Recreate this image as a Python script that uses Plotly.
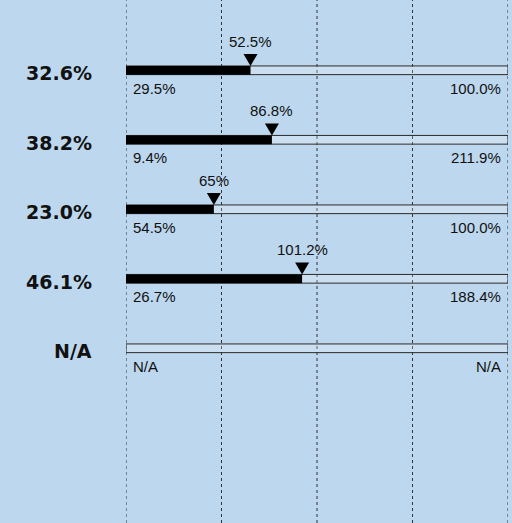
import plotly.graph_objects as go

# ---- data ----
row_labels = ["32.6%", "38.2%", "23.0%", "46.1%", "N/A"]
progress_pct = [32.6, 38.2, 23.0, 46.1, None]
current_values = [52.5, 86.8, 65, 101.2, None]
min_values = [29.5, 9.4, 54.5, 26.7, None]
max_values = [100.0, 211.9, 100.0, 188.4, None]
grid_positions = [0, 0.25, 0.5, 0.75, 1.0]

BG = "#BDD7EE"
BAR_W = 0.125
rows = list(range(len(row_labels)))

fig = go.Figure()

# outline (full-length) bars
fig.add_trace(go.Bar(
    orientation="h", y=rows, x=[1.0] * len(rows), width=BAR_W,
    marker=dict(color="rgba(255,255,255,0.22)", line=dict(color="#2b2b2b", width=1)),
    hoverinfo="skip",
))

# filled progress bars
fill_rows = [r for r, p in zip(rows, progress_pct) if p is not None]
fill_vals = [p / 100 for p in progress_pct if p is not None]
fig.add_trace(go.Bar(
    orientation="h", y=fill_rows, x=fill_vals, width=BAR_W,
    marker=dict(color="black", line=dict(width=0)),
    hoverinfo="skip",
))

shapes = []
annotations = []
small_font = dict(family="Liberation Sans, Arial, sans-serif", size=15, color="#111111")
big_font = dict(family="DejaVu Sans, Verdana, sans-serif", size=19, color="#111111", weight="bold")

# dotted vertical guide lines
for gx in grid_positions:
    shapes.append(dict(
        type="line", xref="x", yref="paper", x0=gx, x1=gx, y0=0, y1=1,
        line=dict(color="#333333", width=1, dash="3px,3px"), layer="below",
    ))

for r, lab, p, v, mn, mx in zip(rows, row_labels, progress_pct, current_values, min_values, max_values):
    annotations.append(dict(
        text=f"<b>{lab}</b>", x=-32 / 382, xref="paper", y=r, yref="y",
        xanchor="right", yanchor="middle", yshift=-3, showarrow=False, font=big_font,
    ))
    mn_txt = "N/A" if mn is None else f"{mn:.1f}%"
    mx_txt = "N/A" if mx is None else f"{mx:.1f}%"
    annotations.append(dict(
        text=mn_txt, x=0, xref="x", y=r + BAR_W / 2, yref="y",
        xanchor="left", yanchor="top", xshift=5, yshift=-3, showarrow=False, font=small_font,
    ))
    annotations.append(dict(
        text=mx_txt, x=1, xref="x", y=r + BAR_W / 2, yref="y",
        xanchor="right", yanchor="top", xshift=-5, yshift=-3, showarrow=False, font=small_font,
    ))
    if p is not None:
        shapes.append(dict(
            type="path", xref="x", yref="y", xsizemode="pixel", ysizemode="pixel",
            xanchor=p / 100, yanchor=r - BAR_W / 2,
            path="M-7,12 L7,12 L0,0 Z", fillcolor="black", line=dict(width=0),
        ))
        annotations.append(dict(
            text=f"{v:g}%", x=p / 100, xref="x", y=r - BAR_W / 2, yref="y",
            xanchor="center", yanchor="bottom", yshift=14, showarrow=False, font=small_font,
        ))

fig.update_layout(
    width=512, height=523,
    margin=dict(l=126, r=4, t=0, b=0),
    paper_bgcolor=BG, plot_bgcolor=BG,
    barmode="overlay", showlegend=False,
    shapes=shapes, annotations=annotations,
    xaxis=dict(range=[0, 1], showticklabels=False, showgrid=False,
               zeroline=False, showline=False, fixedrange=True),
    yaxis=dict(range=[6.514, -1.0115], showgrid=False, showticklabels=False,
               zeroline=False, showline=False, fixedrange=True),
)

fig.write_html("out.html", config={"displayModeBar": False},
               post_script="document.body.style.margin='0';document.body.style.overflow='hidden';")
